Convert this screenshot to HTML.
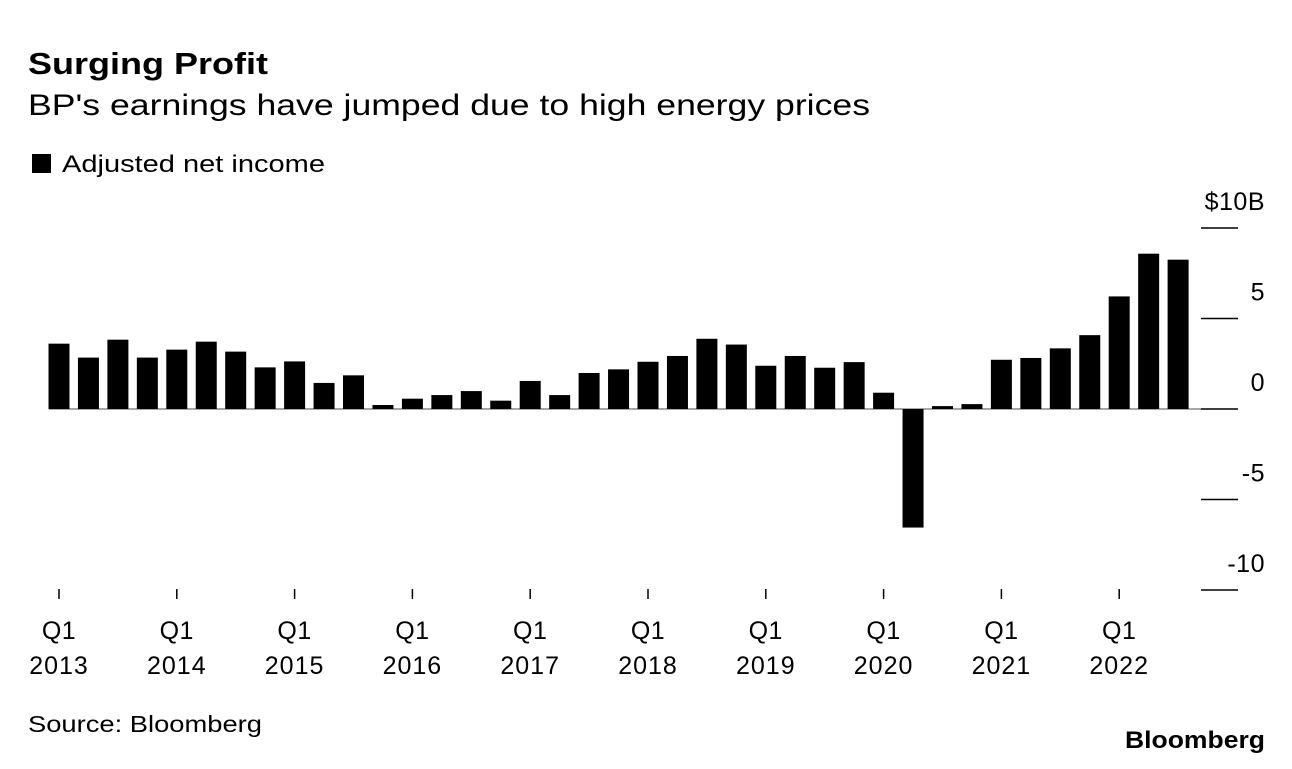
<!DOCTYPE html>
<html><head><meta charset="utf-8"><style>
body{margin:0;background:#fff;font-family:"Liberation Sans",Arial,sans-serif;}
svg text{font-family:"Liberation Sans",Arial,sans-serif;}
</style></head><body>
<svg id="chart" width="1292" height="764" xmlns="http://www.w3.org/2000/svg">
<text x="28" y="74" font-size="31" font-weight="bold" fill="#000" textLength="240" lengthAdjust="spacingAndGlyphs">Surging Profit</text>
<text x="28" y="115" font-size="30" fill="#000" textLength="842" lengthAdjust="spacingAndGlyphs">BP's earnings have jumped due to high energy prices</text>
<rect x="32" y="154" width="19" height="19" fill="#000"/>
<text x="62" y="172" font-size="24" fill="#000" textLength="263" lengthAdjust="spacingAndGlyphs">Adjusted net income</text>
<g id="axis"></g>
<g id="bars"></g>
<g id="xaxis"></g>
<text x="28" y="732" font-size="23" fill="#000" textLength="234" lengthAdjust="spacingAndGlyphs">Source: Bloomberg</text>
<text x="1125" y="748" font-size="24" font-weight="bold" fill="#000" textLength="140" lengthAdjust="spacingAndGlyphs">Bloomberg</text>
</svg>
<script>
const values = [3.61,2.84,3.83,2.84,3.28,3.72,3.17,2.30,2.63,1.44,1.86,0.22,0.57,0.77,0.99,0.46,1.55,0.77,1.99,2.19,2.61,2.93,3.88,3.56,2.39,2.93,2.28,2.59,0.90,-6.55,0.16,0.27,2.72,2.82,3.35,4.08,6.22,8.58,8.25];
const yTicks = [10,5,0,-5,-10];
const yTickLabels = ["$10B","5","0","-5","-10"];
const years = ["2013","2014","2015","2016","2017","2018","2019","2020","2021","2022"];
const NS="http://www.w3.org/2000/svg";
const y0=409, ppu=18.1, x0=59, step=29.45, bw=21;
const y=v=>y0-v*ppu;
const xc=i=>x0+i*step;
function mk(tag,attrs,parent){const e=document.createElementNS(NS,tag);for(const k in attrs)e.setAttribute(k,attrs[k]);parent.appendChild(e);return e;}
const ax=document.getElementById('axis'), bars=document.getElementById('bars'), xa=document.getElementById('xaxis');
yTicks.forEach((t,i)=>{
  const l=mk('line',{x1:1201,x2:1238,y1:y(t),y2:y(t),stroke:'#000','stroke-width':1.5},ax);
  
  
  const tx=mk('text',{x:1265,y:y(t)-18,'font-size':25,'text-anchor':'end',fill:'#000','letter-spacing':'0.5'},ax);
  tx.textContent=yTickLabels[i];
  
  
});
const zl=mk('line',{x1:49,x2:1201,y1:y0,y2:y0,stroke:'#888','stroke-width':1.5},ax);


values.forEach((v,i)=>{
  const r=mk('rect',{x:xc(i)-bw/2,y:Math.min(y(v),y0),width:bw,height:Math.abs(v)*ppu,fill:'#000'},bars);
  
  
});
years.forEach((yr,k)=>{
  const cx=xc(k*4);
  const tk=mk('line',{x1:cx,x2:cx,y1:589,y2:599,stroke:'#000','stroke-width':1.5},xa);
  
  
  const q=mk('text',{x:cx,y:639,'font-size':25,'text-anchor':'middle',fill:'#000','letter-spacing':'0.5'},xa);
  q.textContent='Q1';
  
  
  const t=mk('text',{x:cx,y:674,'font-size':25,'text-anchor':'middle',fill:'#000','letter-spacing':'1'},xa);
  t.textContent=yr;
  
  
});
</script>
</body></html>
